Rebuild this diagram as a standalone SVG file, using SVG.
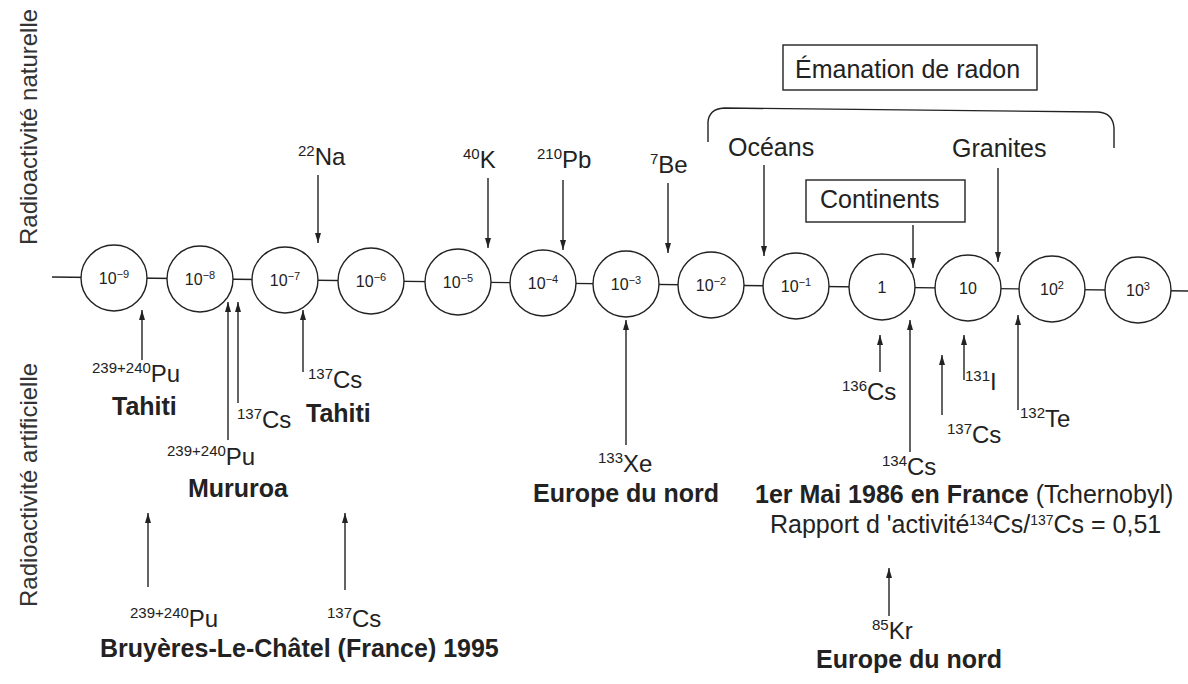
<svg xmlns="http://www.w3.org/2000/svg" width="1188" height="684" viewBox="0 0 1188 684">
<defs>
<marker id="ah" viewBox="0 0 10 6" refX="10" refY="3" markerWidth="10" markerHeight="6" markerUnits="userSpaceOnUse" orient="auto"><path d="M0,0 L10,3 L0,6 z" fill="#222"/></marker>
</defs>
<style>
text{font-family:"Liberation Sans",Arial,Helvetica,sans-serif;fill:#222}
.c{fill:#fff;stroke:#222;stroke-width:1.4}
.cl{font-size:16px;text-anchor:middle}
.s{font-size:11px}
.iso{font-size:24px}
.sup{font-size:15px}
.b{font-weight:bold;font-size:25px}
.reg{font-size:25px}
.arr{stroke:#222;stroke-width:1.4;fill:none;marker-end:url(#ah)}
.box{fill:#fff;stroke:#222;stroke-width:1.4}
.side{font-size:24px;fill:#333}
</style>
<rect width="1188" height="684" fill="#fff"/>

<g id="side-labels">
<text class="side" transform="translate(37,245) rotate(-90)">Radioactivité naturelle</text>
<text class="side" transform="translate(37,607) rotate(-90)">Radioactivité artificielle</text>
</g>

<g id="connectors">
<line x1="52" y1="277" x2="1188" y2="291" stroke="#222" stroke-width="1.4"/>
<path d="M708,142 L708,122 Q709,109 724,108 L1098,112 Q1113,113 1114,128 L1114,148" fill="none" stroke="#222" stroke-width="1.4"/>
<line class="arr" x1="318" y1="175" x2="318" y2="243"/>
<line class="arr" x1="488" y1="178" x2="488" y2="248"/>
<line class="arr" x1="563" y1="180" x2="563" y2="250"/>
<line class="arr" x1="668" y1="183" x2="668" y2="253"/>
<line class="arr" x1="764" y1="165" x2="764" y2="256"/>
<line class="arr" x1="913" y1="225" x2="913" y2="268"/>
<line class="arr" x1="998" y1="168" x2="998" y2="262"/>
<line class="arr" x1="142" y1="360" x2="142" y2="310"/>
<line class="arr" x1="228" y1="440" x2="228" y2="302"/>
<line class="arr" x1="238" y1="403" x2="238" y2="302"/>
<line class="arr" x1="303" y1="372" x2="303" y2="310"/>
<line class="arr" x1="626" y1="445" x2="626" y2="320"/>
<line class="arr" x1="880" y1="372" x2="880" y2="335"/>
<line class="arr" x1="910" y1="452" x2="910" y2="320"/>
<line class="arr" x1="942" y1="415" x2="942" y2="355"/>
<line class="arr" x1="964" y1="380" x2="964" y2="335"/>
<line class="arr" x1="1018" y1="410" x2="1018" y2="315"/>
<line class="arr" x1="148" y1="587" x2="148" y2="513"/>
<line class="arr" x1="345" y1="590" x2="345" y2="513"/>
<line class="arr" x1="889" y1="616" x2="889" y2="568"/>
</g>

<g id="n-9"><circle class="c" cx="114" cy="278" r="33"/><text class="cl" x="114" y="284">10<tspan class="s" dy="-6">−9</tspan></text></g>
<g id="n-8"><circle class="c" cx="200" cy="279" r="33"/><text class="cl" x="200" y="285">10<tspan class="s" dy="-6">−8</tspan></text></g>
<g id="n-7"><circle class="c" cx="285" cy="280" r="33"/><text class="cl" x="285" y="286">10<tspan class="s" dy="-6">−7</tspan></text></g>
<g id="n-6"><circle class="c" cx="371" cy="281" r="33"/><text class="cl" x="371" y="287">10<tspan class="s" dy="-6">−6</tspan></text></g>
<g id="n-5"><circle class="c" cx="458" cy="282" r="33"/><text class="cl" x="458" y="288">10<tspan class="s" dy="-6">−5</tspan></text></g>
<g id="n-4"><circle class="c" cx="543" cy="283" r="33"/><text class="cl" x="543" y="289">10<tspan class="s" dy="-6">−4</tspan></text></g>
<g id="n-3"><circle class="c" cx="626" cy="284" r="33"/><text class="cl" x="626" y="290">10<tspan class="s" dy="-6">−3</tspan></text></g>
<g id="n-2"><circle class="c" cx="711" cy="285" r="33"/><text class="cl" x="711" y="291">10<tspan class="s" dy="-6">−2</tspan></text></g>
<g id="n-1"><circle class="c" cx="796" cy="286" r="33"/><text class="cl" x="796" y="292">10<tspan class="s" dy="-6">−1</tspan></text></g>
<g id="n0"><circle class="c" cx="882" cy="287" r="33"/><text class="cl" x="882" y="293">1</text></g>
<g id="n1"><circle class="c" cx="968" cy="288" r="33"/><text class="cl" x="968" y="294">10</text></g>
<g id="n2"><circle class="c" cx="1052" cy="289" r="33"/><text class="cl" x="1052" y="295">10<tspan class="s" dy="-6">2</tspan></text></g>
<g id="n3"><circle class="c" cx="1138" cy="290" r="33"/><text class="cl" x="1138" y="296">10<tspan class="s" dy="-6">3</tspan></text></g>

<g id="radon">
<rect class="box" x="783" y="45" width="254" height="45"/>
<text class="reg" x="795" y="78">Émanation de radon</text>
</g>
<g id="continents">
<rect class="box" x="806" y="180" width="159" height="42"/>
<text class="reg" x="820" y="208">Continents</text>
</g>
<g id="oceans"><text class="reg" x="728" y="156">Océans</text></g>
<g id="granites"><text class="reg" x="952" y="157">Granites</text></g>

<g id="na22"><text class="iso" x="298" y="165"><tspan class="sup" dy="-9">22</tspan><tspan dy="9">Na</tspan></text></g>
<g id="k40"><text class="iso" x="463" y="168"><tspan class="sup" dy="-9">40</tspan><tspan dy="9">K</tspan></text></g>
<g id="pb210"><text class="iso" x="537" y="168"><tspan class="sup" dy="-9">210</tspan><tspan dy="9">Pb</tspan></text></g>
<g id="be7"><text class="iso" x="650" y="173"><tspan class="sup" dy="-9">7</tspan><tspan dy="9">Be</tspan></text></g>

<g id="tahiti-pu">
<text class="iso" x="92" y="382"><tspan class="sup" dy="-9">239+240</tspan><tspan dy="9">Pu</tspan></text>
<text class="b" x="112" y="415">Tahiti</text>
</g>
<g id="mururoa">
<text class="iso" x="167" y="465"><tspan class="sup" dy="-9">239+240</tspan><tspan dy="9">Pu</tspan></text>
<text class="iso" x="237" y="428"><tspan class="sup" dy="-9">137</tspan><tspan dy="9">Cs</tspan></text>
<text class="b" x="188" y="497">Mururoa</text>
</g>
<g id="tahiti-cs">
<text class="iso" x="308" y="388"><tspan class="sup" dy="-9">137</tspan><tspan dy="9">Cs</tspan></text>
<text class="b" x="306" y="422">Tahiti</text>
</g>
<g id="xe133">
<text class="iso" x="598" y="472"><tspan class="sup" dy="-9">133</tspan><tspan dy="9">Xe</tspan></text>
<text class="b" x="533" y="502">Europe du nord</text>
</g>
<g id="tchernobyl">
<text class="iso" x="842" y="400"><tspan class="sup" dy="-9">136</tspan><tspan dy="9">Cs</tspan></text>
<text class="iso" x="882" y="475"><tspan class="sup" dy="-9">134</tspan><tspan dy="9">Cs</tspan></text>
<text class="iso" x="947" y="443"><tspan class="sup" dy="-9">137</tspan><tspan dy="9">Cs</tspan></text>
<text class="iso" x="965" y="390"><tspan class="sup" dy="-9">131</tspan><tspan dy="9">I</tspan></text>
<text class="iso" x="1020" y="427"><tspan class="sup" dy="-9">132</tspan><tspan dy="9">Te</tspan></text>
<text class="reg" x="755" y="503"><tspan font-weight="bold">1er Mai 1986 en France </tspan>(Tchernobyl)</text>
<text class="reg" x="770" y="533" font-size="23">Rapport d 'activité<tspan font-size="14" dy="-8">134</tspan><tspan dy="8">Cs/</tspan><tspan font-size="14" dy="-8">137</tspan><tspan dy="8">Cs = 0,51</tspan></text>
</g>
<g id="bruyeres">
<text class="iso" x="130" y="627"><tspan class="sup" dy="-9">239+240</tspan><tspan dy="9">Pu</tspan></text>
<text class="iso" x="327" y="627"><tspan class="sup" dy="-9">137</tspan><tspan dy="9">Cs</tspan></text>
<text class="b" x="100" y="657">Bruyères-Le-Châtel (France) 1995</text>
</g>
<g id="kr85">
<text class="iso" x="872" y="639"><tspan class="sup" dy="-9">85</tspan><tspan dy="9">Kr</tspan></text>
<text class="b" x="816" y="668">Europe du nord</text>
</g>
</svg>
